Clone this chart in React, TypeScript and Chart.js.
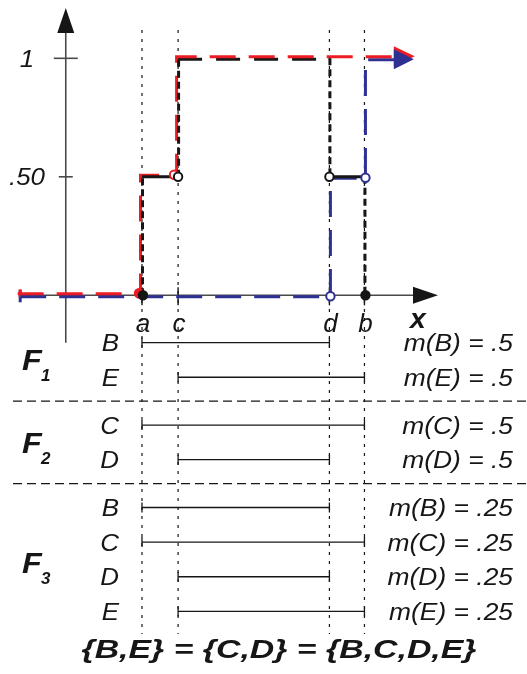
import React, { useEffect, useRef } from 'react';
import { Chart, registerables } from 'chart.js';
Chart.register(...registerables);

const W = 527;
const H = 674;

// ---------------- data ----------------
// named points on the x axis (a < c < d < b), in axis units
const pointNames = ['a', 'c', 'd', 'b'];
const pointValues = [0, 1, 5.19, 6.16];
const PA = pointValues[0];
const PC = pointValues[1];
const PD = pointValues[2];
const PB = pointValues[3];

// extent of the curves
const curveStart = -3.4;
const curveEnd = 7.0;

// y axis ticks
const yTickValues = [1, 0.5];
const yTickLabels = ['1', '.50'];

// red step function (stepped 'before': value reached at each breakpoint)
const redX = [curveStart, PA, PC, curveEnd];
const redY = [0, 0.5, 1, 1];
// blue step function
const blueX = [curveStart, PD, PB, curveEnd];
const blueY = [0, 0.5, 1, 1];
// black function: level taken right after each point (0 before a)
const blackX = [PA, PC, PD, PB];
const blackY = [0.5, 1, 0.5, 0];

// markers
const redFilled = [[PA, 0]];
const redOpen = [[PC, 0.5]];
const blackFilled = [[PA, 0], [PB, 0]];
const blackOpen = [[PC, 0.5], [PD, 0.5]];
const blueOpen = [[PD, 0], [PB, 0.5]];

// focal elements
const groupNames = ['F', 'F', 'F'];
const groupSubs = ['1', '2', '3'];
const rowGroup = [0, 0, 1, 1, 2, 2, 2, 2];
const rowSet = ['B', 'E', 'C', 'D', 'B', 'C', 'D', 'E'];
const rowFrom = [PA, PC, PA, PC, PA, PA, PC, PC];
const rowTo = [PD, PB, PB, PD, PD, PB, PD, PB];
const rowMass = ['.5', '.5', '.5', '.5', '.25', '.25', '.25', '.25'];
const equation = '{B,E} = {C,D} = {B,C,D,E}';

// ---------------- layout / style ----------------
const X_ORIGIN_PX = 139;
const X_UNIT = 37;
const Y0_PX = 294.5;
const Y_UNIT = 241.5;
const ROW0_PX = 342.7;
const ROW_UNIT = 35.3;
const GROUP_GAP = 0.38;
const Y_AXIS_AT = -2.11;

const RED = '#ec1c24';
const BLUE = '#2e3192';
const BLACK = '#161616';
const GRAY = '#4a4a4a';
const FONT = "'Liberation Sans', Arial, sans-serif";

const rowPos = rowGroup.map((g, i) => i + g * GROUP_GAP);

function pts(xs: number[], ys: number[]) {
  return xs.map((x, i) => ({ x, y: ys[i] }));
}

function blackVerticals() {
  const out: any[] = [];
  let prev = 0;
  blackX.forEach((x, i) => {
    out.push({ x, y: prev }, { x, y: blackY[i] }, { x, y: null });
    prev = blackY[i];
  });
  return out;
}
function blackHorizontals(solid: boolean) {
  const out: any[] = [];
  for (let i = 0; i < blackX.length - 1; i++) {
    const isTop = blackY[i] === 1;
    if (isTop === solid) continue;
    out.push({ x: blackX[i], y: blackY[i] }, { x: blackX[i + 1], y: blackY[i] }, { x: blackX[i + 1], y: null });
  }
  return out;
}

function markers(list: number[][], color: string, filled: boolean, order: number, offset: number[]) {
  return {
    type: 'line',
    data: list.map(([x, y]) => ({ x, y })),
    showLine: false,
    pointStyle: 'circle',
    pointRadius: 4.2,
    pointBorderWidth: 2,
    pointBorderColor: color,
    pointBackgroundColor: filled ? color : '#ffffff',
    order,
    offset,
  };
}

function drawText(ctx: CanvasRenderingContext2D, text: string, x: number, y: number, font: string, align: CanvasTextAlign, sx = 1) {
  ctx.save();
  ctx.font = font;
  ctx.fillStyle = BLACK;
  ctx.textAlign = align;
  ctx.textBaseline = 'alphabetic';
  ctx.translate(x, y);
  ctx.scale(sx, 1);
  ctx.fillText(text, 0, 0);
  ctx.restore();
}

function tri(ctx: CanvasRenderingContext2D, p: number[][], color: string) {
  ctx.beginPath();
  ctx.moveTo(p[0][0], p[0][1]);
  ctx.lineTo(p[1][0], p[1][1]);
  ctx.lineTo(p[2][0], p[2][1]);
  ctx.closePath();
  ctx.fillStyle = color;
  ctx.fill();
}

const decor = {
  id: 'decor',
  beforeDatasetsDraw(chart: any) {
    const ctx: CanvasRenderingContext2D = chart.ctx;
    const xs = chart.scales.x;
    const ys = chart.scales.y;
    const yr = chart.scales.yr;
    const seg = (x1: number, y1: number, x2: number, y2: number) => {
      ctx.beginPath();
      ctx.moveTo(x1, y1);
      ctx.lineTo(x2, y2);
      ctx.stroke();
    };
    ctx.save();
    // dotted verticals through named points
    ctx.strokeStyle = BLACK;
    ctx.lineWidth = 1.2;
    ctx.setLineDash([3, 6]);
    pointValues.forEach((v) => {
      const px = xs.getPixelForValue(v);
      seg(px, 30, px, 634);
    });
    // group separators
    ctx.setLineDash([9, 5]);
    ctx.lineWidth = 1.1;
    for (let i = 0; i < rowGroup.length - 1; i++) {
      if (rowGroup[i] !== rowGroup[i + 1]) {
        const py = yr.getPixelForValue((rowPos[i] + rowPos[i + 1]) / 2);
        seg(13, py, W, py);
      }
    }
    ctx.setLineDash([]);
    // axes
    const ax = xs.getPixelForValue(Y_AXIS_AT);
    const y0 = ys.getPixelForValue(0);
    ctx.strokeStyle = GRAY;
    ctx.lineWidth = 1.6;
    seg(ax, ys.getPixelForValue(-0.2), ax, 25);
    seg(xs.getPixelForValue(curveStart), y0, 420, y0);
    // y ticks
    yTickValues.forEach((v, i) => {
      const py = ys.getPixelForValue(v);
      const half = i === 0 ? 12 : 7;
      seg(ax - half, py, ax + half, py);
    });
    // x ticks
    ctx.strokeStyle = BLACK;
    ctx.lineWidth = 1.4;
    pointValues.forEach((v) => {
      const px = xs.getPixelForValue(v);
      seg(px, y0 - 8, px, y0 + 10);
    });
    // curve start caps
    ctx.lineWidth = 3;
    const sx = xs.getPixelForValue(curveStart) + 1;
    ctx.strokeStyle = BLUE;
    seg(sx, y0 - 5, sx, y0 + 7);
    ctx.strokeStyle = RED;
    seg(sx, y0 - 6, sx, y0 + 2);
    ctx.restore();
  },
  beforeDatasetDraw(chart: any, args: any) {
    const off = chart.data.datasets[args.index].offset;
    chart.ctx.save();
    if (off) chart.ctx.translate(off[0], off[1]);
  },
  afterDatasetDraw(chart: any) {
    chart.ctx.restore();
  },
  afterDraw(chart: any) {
    const ctx: CanvasRenderingContext2D = chart.ctx;
    const xs = chart.scales.x;
    const ys = chart.scales.y;
    const yr = chart.scales.yr;
    const ax = xs.getPixelForValue(Y_AXIS_AT);
    const y0 = ys.getPixelForValue(0);
    const y1 = ys.getPixelForValue(1);
    // arrows
    tri(ctx, [[ax, 8], [ax - 8.5, 33], [ax + 8.5, 33]], BLACK);
    tri(ctx, [[438, y0], [413, y0 - 8.5], [413, y0 + 8.5]], BLACK);
    const tip = xs.getPixelForValue(curveEnd) + 20;
    tri(ctx, [[tip, y1 - 2], [tip - 21, y1 - 12], [tip - 21, y1 + 8]], RED);
    tri(ctx, [[tip - 1, y1 + 1], [tip - 21, y1 - 9], [tip - 21, y1 + 11]], BLUE);

    // y tick labels
    yTickValues.forEach((v, i) => {
      drawText(ctx, yTickLabels[i], 27, ys.getPixelForValue(v) + 8.5, `italic 24px ${FONT}`, 'center', 1.08);
    });
    // point labels
    pointNames.forEach((n, i) => {
      drawText(ctx, n, xs.getPixelForValue(pointValues[i]) + 1, y0 + 37, `italic 26px ${FONT}`, 'center', 1.0);
    });
    drawText(ctx, 'x', 418, y0 + 33, `bold italic 27px ${FONT}`, 'center', 1.05);

    // rows
    rowSet.forEach((s, i) => {
      const py = yr.getPixelForValue(rowPos[i]);
      drawText(ctx, s, 119, py + 8.5, `italic 24px ${FONT}`, 'right', 1.08);
      drawText(ctx, `m(${s}) = ${rowMass[i]}`, 513, py + 8.5, `italic 24px ${FONT}`, 'right', 1.1);
    });
    // group labels
    groupNames.forEach((g, gi) => {
      const rows = rowPos.filter((_, i) => rowGroup[i] === gi);
      const mid = yr.getPixelForValue((rows[0] + rows[rows.length - 1]) / 2) + (gi === 2 ? 3 : 0);
      drawText(ctx, g, 22, mid + 10.5, `bold italic 30px ${FONT}`, 'left', 1.08);
      drawText(ctx, groupSubs[gi], 41, mid + 21.5, `bold italic 17px ${FONT}`, 'left', 1.0);
    });
    // equation, stretched to the reference width
    ctx.save();
    ctx.font = `bold italic 26px ${FONT}`;
    const w = ctx.measureText(equation).width;
    ctx.restore();
    drawText(ctx, equation, 279, 658, `bold italic 26px ${FONT}`, 'center', 395 / w);
  },
};

export default function App() {
  const ref = useRef<HTMLCanvasElement | null>(null);
  useEffect(() => {
    if (!ref.current) return;
    const lineBase = { type: 'line', pointRadius: 0, fill: false, tension: 0, spanGaps: false, borderCapStyle: 'butt' };
    const datasets: any[] = [
      // focal element intervals
      ...rowSet.map((s, i) => ({
        type: 'line',
        label: s,
        yAxisID: 'yr',
        data: [{ x: rowFrom[i], y: rowPos[i] }, { x: rowTo[i], y: rowPos[i] }],
        borderColor: BLACK,
        borderWidth: 1.3,
        pointStyle: 'line',
        pointRotation: 90,
        pointRadius: 5,
        pointBorderWidth: 1.3,
        pointBorderColor: BLACK,
        order: 20,
      })),
      { ...lineBase, label: 'black top', data: blackHorizontals(false), borderColor: BLACK, borderWidth: 3, borderDash: [24, 14], order: 8, offset: [0, 1] },
      { ...lineBase, label: 'blue', data: pts(blueX, blueY), stepped: 'before', borderColor: BLUE, borderWidth: 3, borderDash: [26, 13], order: 7, offset: [1, 1.5] },
      { ...lineBase, label: 'red', data: pts(redX, redY), stepped: 'before', borderColor: RED, borderWidth: 3, borderDash: [26, 13], order: 6, offset: [-1.5, -1.5] },
      { ...lineBase, label: 'black vertical', data: blackVerticals(), borderColor: BLACK, borderWidth: 3, borderDash: [7, 4], order: 5, offset: [0.5, 0] },
      { ...lineBase, label: 'black half', data: blackHorizontals(true), borderColor: BLACK, borderWidth: 3, order: 4, offset: [0, 0] },
      markers(redFilled, RED, true, 3, [-3, -2]),
      markers(redOpen, RED, false, 3, [-4, -2]),
      markers(blueOpen, BLUE, false, 2, [1, 1]),
      markers(blackOpen, BLACK, false, 1, [0, 0]),
      markers(blackFilled, BLACK, true, 1, [1, 0]),
    ];
    const chart = new Chart(ref.current, {
      type: 'line',
      data: { datasets },
      options: {
        animation: false,
        responsive: false,
        events: [],
        layout: { padding: 0 },
        plugins: { legend: { display: false }, tooltip: { enabled: false }, title: { display: false } },
        scales: {
          x: { type: 'linear', display: false, min: -X_ORIGIN_PX / X_UNIT, max: (W - X_ORIGIN_PX) / X_UNIT },
          y: { type: 'linear', display: false, min: -(H - Y0_PX) / Y_UNIT, max: Y0_PX / Y_UNIT },
          yr: { type: 'linear', display: false, reverse: true, min: -ROW0_PX / ROW_UNIT, max: (H - ROW0_PX) / ROW_UNIT },
        },
      } as any,
      plugins: [decor as any],
    } as any);
    return () => chart.destroy();
  }, []);
  return (
    <div style={{ position: 'absolute', left: 0, top: 0, width: W, height: H, background: '#fff' }}>
      <canvas ref={ref} width={W} height={H} style={{ display: 'block' }} />
    </div>
  );
}
